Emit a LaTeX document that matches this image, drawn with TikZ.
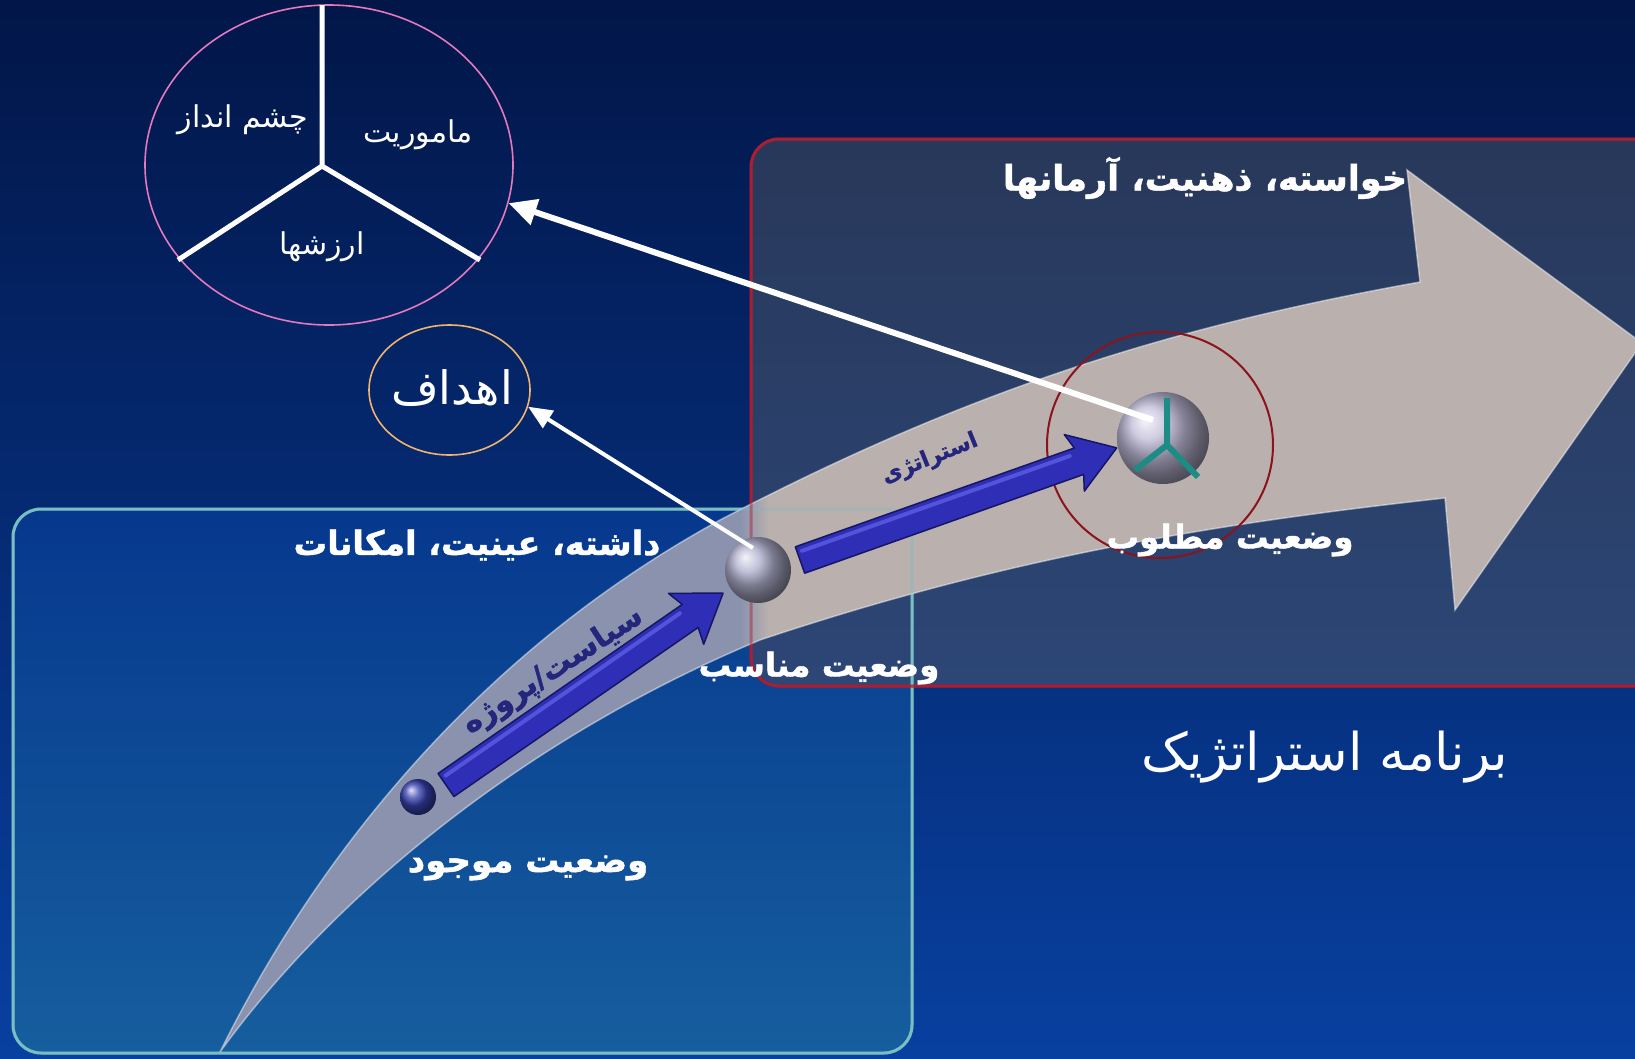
\documentclass[tikz,border=0pt]{standalone}
\usepackage{fontspec}
\usetikzlibrary{arrows.meta,shapes.geometric,calc}
\TeXXeTstate=1
\newfontfamily\fa[Script=Arabic]{DejaVu Sans}
\newfontfamily\fab[Script=Arabic, FakeBold=1.3]{DejaVu Sans Bold}
\definecolor{bgtop}{RGB}{2,22,72}
\definecolor{bgmid}{RGB}{0,44,128}
\definecolor{bgbot}{RGB}{8,64,160}
\definecolor{lbtop}{RGB}{6,56,142}
\definecolor{lbmid}{RGB}{6,62,146}
\definecolor{lbbot}{RGB}{22,94,158}
\definecolor{rbtop}{RGB}{40,56,90}
\definecolor{rbbot}{RGB}{44,70,118}
\definecolor{lbedge}{RGB}{120,190,195}
\definecolor{rbedge}{RGB}{170,30,50}
\definecolor{bandL}{RGB}{138,146,174}
\definecolor{bandR}{RGB}{186,176,174}
\definecolor{pinkline}{RGB}{230,120,190}
\definecolor{orangeline}{RGB}{240,180,110}
\definecolor{redcirc}{RGB}{140,18,28}
\definecolor{ytealc}{RGB}{28,140,132}
\definecolor{navytext}{RGB}{36,38,125}
\definecolor{arrowblue}{RGB}{46,46,182}
\definecolor{arrowdark}{RGB}{22,22,100}
\definecolor{arrowlight}{RGB}{100,100,235}
\definecolor{sphA}{RGB}{55,65,175}
\definecolor{sphB}{RGB}{175,175,205}
\definecolor{sphC}{RGB}{190,185,215}
\pgfdeclarehorizontalshading{bandshade}{100bp}{color(0bp)=(bandL); color(43.3bp)=(bandL); color(44.3bp)=(bandR); color(100bp)=(bandR)}
\tikzset{
  boldlbl/.style={text=white, inner sep=0pt, font=\fab\fontsize{#1}{#1}\selectfont},
  boldlbl/.default=34,
  reglbl/.style={text=white, inner sep=0pt, font=\fa\fontsize{30}{34}\selectfont},
  arrowlbl/.style={text=navytext, inner sep=0pt, font=\fab\fontsize{#1}{#1}\selectfont},
  arrowlbl/.default=30,
  whitearrow/.style={draw=white, line width=6pt, -{Triangle[length=28pt,width=26pt]}},
  blockarrow/.style={fill=arrowblue, draw=arrowdark, line width=1.5pt, line join=round},
  ballnode/.style={circle, shade, inner sep=0pt},
}
\begin{document}
\begin{tikzpicture}[x=1pt,y=-1pt]
\useasboundingbox (0,0) rectangle (1635,1058);
\clip (0,0) rectangle (1635,1058);
% background
\shade[top color=bgtop, middle color=bgmid, bottom color=bgbot] (0,0) rectangle (1635,1058);
% boxes
\shade[top color=lbtop, middle color=lbmid, bottom color=lbbot, rounded corners=28pt] (13,509) rectangle (912,1053);
\shade[top color=rbtop, bottom color=rbbot, rounded corners=28pt] (751,139) rectangle (1690,686);
\draw[lbedge, line width=3pt, rounded corners=28pt] (13,509) rectangle (912,1053);
\draw[rbedge, line width=3pt, rounded corners=28pt] (751,139) rectangle (1690,686);
% big curved arrow band
\shadedraw[shading=bandshade, draw=white, draw opacity=0.45, line width=1.5pt]
  (220,1052) .. controls (330,830) and (500,640) .. (720,520)
  .. controls (950,400) and (1150,330) .. (1420,282)
  -- (1407,170) -- (1642,343) -- (1455,610) -- (1445,498)
  .. controls (1200,525) and (1000,560) .. (760,640)
  .. controls (520,740) and (330,900) .. (220,1052) -- cycle;
% box borders seen through the band
\draw[lbedge, line width=3pt, rounded corners=28pt, opacity=0.35] (13,509) rectangle (912,1053);
\draw[rbedge, line width=3pt, rounded corners=28pt, opacity=0.45] (751,139) rectangle (1690,686);

% vision / mission / values ellipse
\node[ellipse, draw=pinkline, line width=1.6pt, minimum width=368pt, minimum height=320pt, inner sep=0pt] (vision) at (329,165) {};
\coordinate (yc) at (322,166);
\coordinate (ytop) at (322,5);
\coordinate (yl) at (178,260);
\coordinate (yr) at (480,260);
\draw[white, line width=5pt] (ytop) -- (yc) -- (yl);
\draw[white, line width=5pt] (yc) -- (yr);
\node[reglbl] (lvision) at (243,120) {\beginR چشم انداز\endR};
\node[reglbl] (lmission) at (418,135) {\beginR ماموریت\endR};
\node[reglbl] (lvalues) at (322,247) {\beginR ارزشها\endR};

% goals ellipse
\node[ellipse, draw=orangeline, line width=1.6pt, minimum width=161pt, minimum height=130pt, inner sep=0pt] (goals) at (449.5,390) {};
\node[text=white, inner sep=0pt, font=\fa\fontsize{46}{52}\selectfont] (lgoals) at (452,388) {\beginR اهداف\endR};

% red target circle
\node[circle, draw=redcirc, line width=2pt, minimum size=226pt, inner sep=0pt] (target) at (1160,445) {};

% blue block arrows
\coordinate (a1s) at (446,785);
\coordinate (a2s) at (800,560);
\begin{scope}[shift={(a1s)}, rotate=34.7]
  \path[blockarrow] (0,-14) -- (297,-14) -- (292,-31) -- (337,0) -- (292,31) -- (297,14) -- (0,14) -- cycle;
  \draw[arrowlight, line width=4pt, line cap=round, opacity=0.7] (5,-8) -- (290,-8);
\end{scope}
\begin{scope}[shift={(a2s)}, rotate=19.5]
  \path[blockarrow] (0,-14) -- (296,-14) -- (291,-30) -- (336,0) -- (291,30) -- (296,14) -- (0,14) -- cycle;
  \draw[arrowlight, line width=4pt, line cap=round, opacity=0.7] (5,-8) -- (289,-8);
\end{scope}

% spheres
\node[ballnode, ball color=sphA, minimum size=36pt] (s1) at (418,797) {};
\node[ballnode, ball color=sphB, minimum size=66pt] (s2) at (758,570) {};
\node[ballnode, ball color=sphC, minimum size=92pt] (s3) at (1163,438) {};

% teal Y on the desired-state sphere
\coordinate (tyc) at (1167,445);
\coordinate (tyt) at (1167,398);
\coordinate (tyl) at (1135,470);
\coordinate (tyr) at (1198,477);
\draw[ytealc, line width=6pt] (tyt) -- (tyc) -- (tyl);
\draw[ytealc, line width=6pt] (tyc) -- (tyr);

% white connectors
\coordinate (s3p) at (1153,420);
\coordinate (s2p) at (753,548);
\draw[whitearrow] (s3p) -- (vision.-12);
\draw[whitearrow, line width=4pt, -{Triangle[length=24pt,width=20pt]}] (s2p) -- (goals.-12);

% labels
\node[boldlbl=35] (ldesire) at (1205,178) {\beginR خواسته، ذهنیت، آرمانها\endR};
\node[boldlbl=33.5] (lhave) at (477,545) {\beginR داشته، عینیت، امکانات\endR};
\node[boldlbl=32.5] (lproper) at (819,668) {\beginR وضعیت مناسب\endR};
\node[boldlbl=32.5] (lwanted) at (1230,540) {\beginR وضعیت مطلوب\endR};
\node[boldlbl=34] (lcurrent) at (528,868) {\beginR وضعیت موجود\endR};
\node[text=white, inner sep=0pt, font=\fa\fontsize{52}{58}\selectfont] (lplan) at (1325,757) {\beginR برنامه استراتژیک\endR};
\node[arrowlbl=30, rotate=33] (lpolicy) at (553,671) {\beginR سیاست/پروژه\endR};
\node[arrowlbl=22, rotate=22] (lstrat) at (930,459) {\beginR استراتژی\endR};
\end{tikzpicture}
\end{document}
